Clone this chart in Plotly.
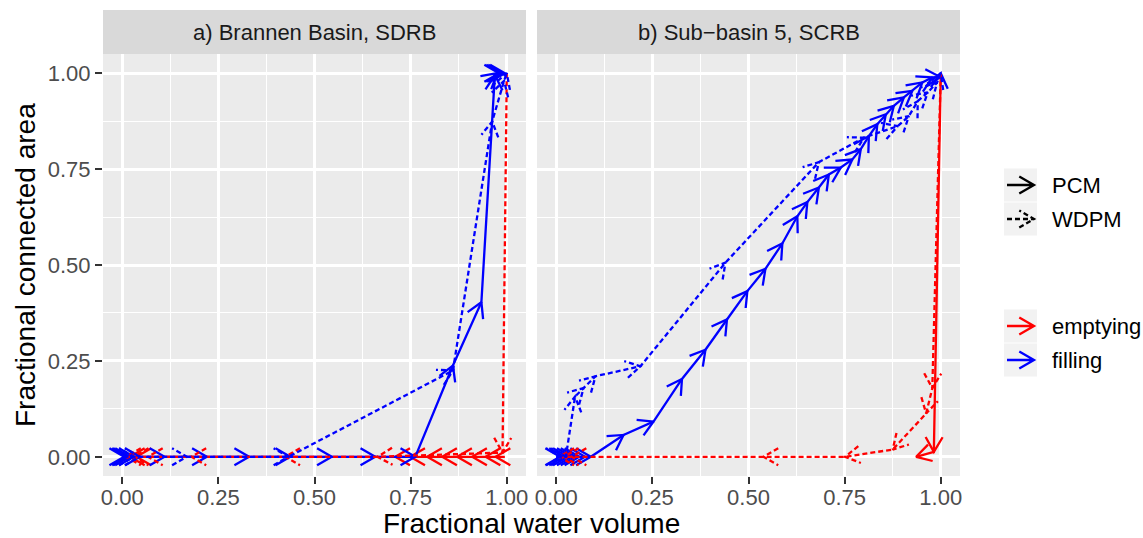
import numpy as np
import plotly.graph_objects as go

# ---------------- data ----------------
panels = ["a) Brannen Basin, SDRB", "b) Sub\u2212basin 5, SCRB"]
tick_vals = [0.0, 0.25, 0.5, 0.75, 1.0]
tick_text = ["0.00", "0.25", "0.50", "0.75", "1.00"]

# panel a
a_pcm_fill_x = [0.0, 0.005, 0.012, 0.02, 0.03, 0.046, 0.11, 0.22, 0.33, 0.437, 0.545, 0.658, 0.762,
                0.86, 0.934, 0.969, 0.975, 0.98, 0.985, 0.99, 0.995]
a_pcm_fill_y = [0, 0, 0, 0, 0, 0, 0, 0, 0, 0, 0, 0, 0,
                0.238, 0.403, 0.995, 1.0, 1.0, 1.0, 1.0, 1.0]
a_pcm_empty_x = [0.995, 0.971, 0.945, 0.91, 0.871, 0.832, 0.793, 0.749, 0.71, 0.037, 0.02]
a_pcm_empty_y = [0, 0, 0, 0, 0, 0, 0, 0, 0, 0, 0]
a_wdpm_fill_x = [0.0, 0.015, 0.03, 0.045, 0.168, 0.432, 0.86, 0.962, 0.993, 1.0]
a_wdpm_fill_y = [0, 0, 0, 0, 0, 0, 0.225, 0.874, 0.98, 1.0]
a_wdpm_empty_x = [1.0, 0.989, 0.664, 0.424, 0.18, 0.067, 0.03, 0.01]
a_wdpm_empty_y = [1.0, 0.011, 0, 0, 0, 0, 0, 0]

# panel b
b_pcm_fill_x = [0.0, 0.01, 0.02, 0.03, 0.04, 0.05, 0.06, 0.075, 0.09, 0.175, 0.253, 0.327, 0.388,
                0.444, 0.497, 0.544, 0.588, 0.627, 0.653, 0.683, 0.709, 0.74, 0.77, 0.792, 0.813,
                0.835, 0.857, 0.878, 0.904, 0.926, 0.952, 0.978, 0.999, 1.0]
b_pcm_fill_y = [0, 0, 0, 0, 0, 0, 0, 0, 0, 0.057, 0.092, 0.203, 0.279,
                0.358, 0.432, 0.49, 0.556, 0.627, 0.664, 0.702, 0.736, 0.754, 0.775, 0.802, 0.836,
                0.867, 0.893, 0.915, 0.937, 0.954, 0.976, 0.989, 0.99, 1.0]
b_pcm_empty_x = [1.0, 0.982, 0.936]
b_pcm_empty_y = [1.0, 0.013, 0.0]
b_wdpm_fill_x = [0.0, 0.012, 0.025, 0.049, 0.071, 0.102, 0.219, 0.44, 0.683, 0.8, 0.888, 0.917,
                 0.94, 0.966, 0.99, 1.0]
b_wdpm_fill_y = [0, 0, 0, 0.157, 0.179, 0.21, 0.236, 0.506, 0.768, 0.832, 0.862, 0.888,
                 0.927, 0.95, 0.975, 1.0]
b_wdpm_empty_x = [1.0, 0.978, 0.962, 0.875, 0.751, 0.539, 0.04, 0.02, 0.008]
b_wdpm_empty_y = [1.0, 0.179, 0.113, 0.019, 0.0, 0.0, 0.0, 0.0, 0.0]

# legend labels
model_labels = ["PCM", "WDPM"]
phase_labels = ["emptying", "filling"]

# ---------------- layout geometry ----------------
W, H = 1143, 538
ML, MR, MT, MB = 103, 183, 54, 62
PW = W - ML - MR
PH = H - MT - MB
GAP = 11
PANEL_W = (PW - GAP) / 2
RNG = [-0.05, 1.05]
SX = PANEL_W / (RNG[1] - RNG[0])
SY = PH / (RNG[1] - RNG[0])
HEAD_LEN = 17.0
HEAD_ANG = np.radians(30)

RED = "#FF0000"
BLUE = "#0000FF"
DOT = "5px,3px"
LW = 2.3
FONT = "Liberation Sans, Arial, sans-serif"


def head_wings(x0, y0, x1, y1, sx, sy):
    dx = (x1 - x0) * sx
    dy = (y1 - y0) * sy
    n = np.hypot(dx, dy)
    if n == 0:
        return None
    ux, uy = dx / n, dy / n
    wings = []
    for s in (1, -1):
        c, si = np.cos(s * HEAD_ANG), np.sin(s * HEAD_ANG)
        wx, wy = ux * c - uy * si, ux * si + uy * c
        wings.append((x1 - HEAD_LEN * wx / sx, y1 - HEAD_LEN * wy / sy))
    return wings


def path_with_heads(xs, ys):
    """The path itself plus an open arrow head at the end of each segment."""
    px, py = list(xs), list(ys)
    for i in range(1, len(xs)):
        w = head_wings(xs[i - 1], ys[i - 1], xs[i], ys[i], SX, SY)
        if w is None:
            continue
        px += [None, w[0][0], xs[i], w[1][0]]
        py += [None, w[0][1], ys[i], w[1][1]]
    return px, py


fig = go.Figure()

series = [
    # (panel index, x, y, color, dash)
    (0, a_pcm_empty_x, a_pcm_empty_y, RED, "solid"),
    (0, a_pcm_fill_x, a_pcm_fill_y, BLUE, "solid"),
    (0, a_wdpm_empty_x, a_wdpm_empty_y, RED, DOT),
    (0, a_wdpm_fill_x, a_wdpm_fill_y, BLUE, DOT),
    (1, b_pcm_empty_x, b_pcm_empty_y, RED, "solid"),
    (1, b_pcm_fill_x, b_pcm_fill_y, BLUE, "solid"),
    (1, b_wdpm_empty_x, b_wdpm_empty_y, RED, DOT),
    (1, b_wdpm_fill_x, b_wdpm_fill_y, BLUE, DOT),
]
for p, xs, ys, col, dash in series:
    px, py = path_with_heads(xs, ys)
    fig.add_trace(go.Scatter(
        x=px, y=py, mode="lines", xaxis="x" if p == 0 else "x2", yaxis="y" if p == 0 else "y2",
        line=dict(color=col, width=LW, dash=dash), showlegend=False, hoverinfo="skip",
        connectgaps=False))


def paper_x(px):
    return (px - ML) / PW


def paper_y(py):
    return (H - MB - py) / PH


axis_common = dict(range=RNG, tickmode="array", tickvals=tick_vals, ticktext=tick_text,
                   showgrid=True, gridcolor="white", gridwidth=2.5, zeroline=False,
                   ticks="outside", ticklen=7, tickwidth=2, tickcolor="#333333",
                   tickfont=dict(family=FONT, size=22, color="#4D4D4D"),
                   minor=dict(tickmode="array", tickvals=[0.125, 0.375, 0.625, 0.875],
                              showgrid=True, gridcolor="white", gridwidth=1.3, ticks=""),
                   showline=False, fixedrange=True)

dom_a = [0, PANEL_W / PW]
dom_b = [(PANEL_W + GAP) / PW, 1]

shapes = []
annotations = []
strip_h = 44 / PH
for dom, title in zip([dom_a, dom_b], panels):
    shapes.append(dict(type="rect", xref="paper", yref="paper", x0=dom[0], x1=dom[1], y0=1,
                       y1=1 + strip_h, fillcolor="#D9D9D9", line=dict(width=0), layer="below"))
    annotations.append(dict(text=title, xref="paper", yref="paper", x=(dom[0] + dom[1]) / 2,
                            y=1 + strip_h / 2, showarrow=False, xanchor="center", yanchor="middle",
                            font=dict(family=FONT, size=22, color="#1A1A1A")))

# ---------------- legends (ggplot style keys: grey box + arrow glyph) ----------------
legend_rows = [(model_labels[0], "black", "solid", 185),
               (model_labels[1], "black", DOT, 219),
               (phase_labels[0], RED, "solid", 326),
               (phase_labels[1], BLUE, "solid", 360)]
KEY_X0, KEY_X1 = 1004, 1037
for name, col, dash, rowy in legend_rows:
    shapes.append(dict(type="rect", xref="paper", yref="paper", x0=paper_x(KEY_X0),
                       x1=paper_x(KEY_X1), y0=paper_y(rowy - 16.5), y1=paper_y(rowy + 16.5),
                       fillcolor="#F2F2F2", line=dict(width=0), layer="below"))
    lx0, lx1 = KEY_X0 + 3, KEY_X1 - 3
    # arrow glyph built in pixel space then mapped to paper coordinates
    wings = head_wings(lx0, 0, lx1, 0, 1, 1)
    path = "M{:.5f},{:.5f} L{:.5f},{:.5f} M{:.5f},{:.5f} L{:.5f},{:.5f} L{:.5f},{:.5f}".format(
        paper_x(lx0), paper_y(rowy), paper_x(lx1), paper_y(rowy),
        paper_x(wings[0][0]), paper_y(rowy - wings[0][1]),
        paper_x(lx1), paper_y(rowy),
        paper_x(wings[1][0]), paper_y(rowy - wings[1][1]))
    shapes.append(dict(type="path", xref="paper", yref="paper", path=path,
                       line=dict(color=col, width=LW, dash=dash)))
    annotations.append(dict(text=name, xref="paper", yref="paper", x=paper_x(1050),
                            y=paper_y(rowy), showarrow=False, xanchor="left", yanchor="middle",
                            font=dict(family=FONT, size=22, color="black")))

annotations.append(dict(text="Fractional water volume", xref="paper", yref="paper", x=0.5,
                        y=paper_y(523), showarrow=False, xanchor="center", yanchor="middle",
                        font=dict(family=FONT, size=28, color="black")))
annotations.append(dict(text="Fractional connected area", xref="paper", yref="paper",
                        x=paper_x(25), y=0.5, showarrow=False, xanchor="center", yanchor="middle",
                        textangle=-90, font=dict(family=FONT, size=28, color="black")))

xaxis_extra = dict(ticklabelstandoff=-5)
fig.update_layout(
    width=W, height=H, margin=dict(l=ML, r=MR, t=MT, b=MB, pad=0),
    paper_bgcolor="white", plot_bgcolor="#EBEBEB",
    xaxis=dict(domain=dom_a, anchor="y", **axis_common, **xaxis_extra),
    xaxis2=dict(domain=dom_b, anchor="y2", **axis_common, **xaxis_extra),
    yaxis=dict(domain=[0, 1], anchor="x", **axis_common),
    yaxis2=dict(domain=[0, 1], anchor="x2", **{**axis_common, "showticklabels": False, "ticks": ""}),
    shapes=shapes, annotations=annotations,
    font=dict(family=FONT), showlegend=False,
)

fig.write_html("out.html")
